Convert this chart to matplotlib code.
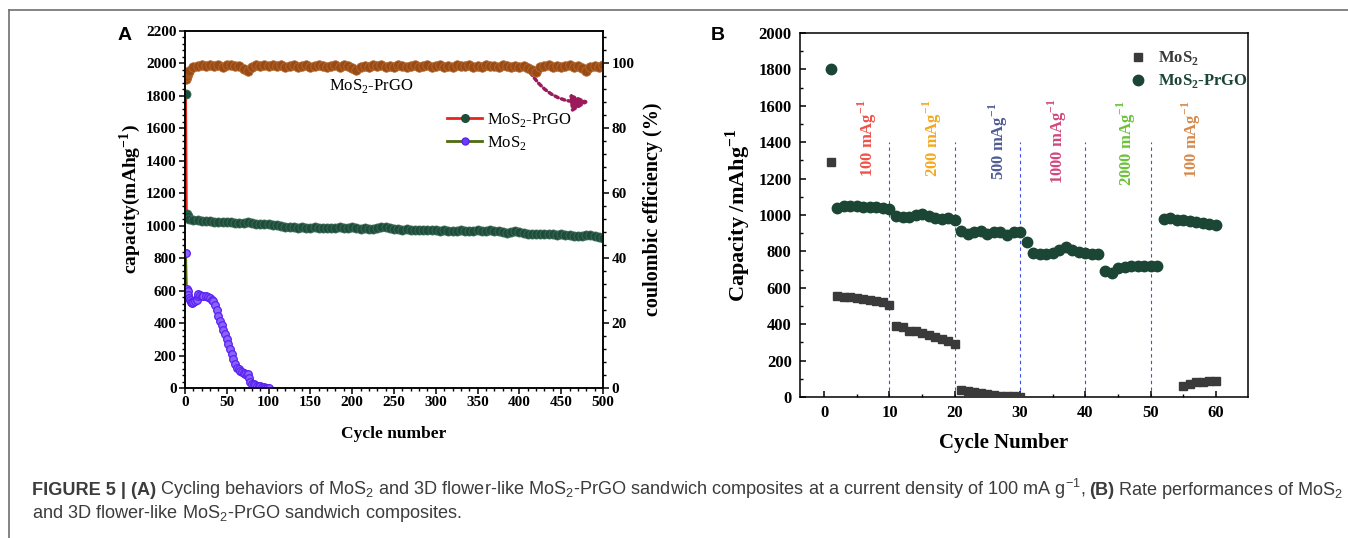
import matplotlib
matplotlib.use('Agg')
import matplotlib.pyplot as plt
from matplotlib import font_manager
from matplotlib.lines import Line2D
from matplotlib.ticker import MultipleLocator, AutoMinorLocator

# ---- panel A: long cycling at 100 mA/g ----
prgo_cyc_a = [1, 2, 3] + list(range(5, 501, 5))
prgo_cap_a = [1810, 1075, 1060,
              1040, 1035, 1035, 1032, 1030, 1028, 1025, 1025, 1022, 1020,
              1020, 1018, 1015, 1018, 1020, 1015, 1012, 1010, 1008, 1008,
              1005, 1005, 1000, 992, 990, 990, 988, 990, 988, 988,
              990, 988, 985, 988, 985, 987, 990, 985, 988, 990,
              985, 982, 985, 980, 980, 985, 990, 992, 985, 980,
              978, 975, 978, 975, 976, 975, 972, 975, 972, 972,
              970, 972, 970, 968, 970, 972, 970, 970, 968, 972,
              970, 970, 972, 970, 968, 962, 958, 960, 965, 962,
              955, 950, 948, 950, 948, 950, 952, 948, 945, 948,
              945, 940, 935, 938, 935, 940, 940, 935, 930, 925]
prgo_ce_a = [95.2, 96.0, 97.0,
             97.8, 98.8, 99.2, 99.5, 99.3, 99.6, 99.2, 99.5, 99.0, 99.4,
             99.6, 99.1, 99.3, 98.4, 97.6, 99.0, 99.4, 99.2, 99.5, 99.3,
             99.6, 99.1, 99.4, 99.0, 99.3, 99.5, 98.9, 99.2, 99.4, 99.0,
             99.3, 99.6, 99.2, 98.8, 99.3, 99.5, 99.0, 99.4, 99.1, 98.6,
             97.9, 98.8, 99.3, 99.0, 99.4, 99.2, 99.5, 98.9, 99.3, 99.0,
             99.4, 99.1, 98.8, 99.3, 99.5, 99.0, 99.2, 99.4, 98.9, 99.2,
             99.5, 99.0, 99.3, 98.8, 99.4, 99.1, 99.3, 99.5, 99.0, 99.2,
             98.9, 99.4, 99.1, 99.3, 99.0, 99.4, 99.2, 98.8, 99.3, 99.0,
             99.2, 98.7, 97.9, 97.5, 98.8, 99.2, 99.4, 99.0, 99.3, 98.9,
             99.2, 99.4, 99.0, 99.3, 98.6, 97.8, 98.9, 99.3, 99.0, 99.4]
mos2_cyc_a = [1, 2, 3, 4, 5, 6, 7, 8, 10, 12, 14, 15, 16, 18, 20, 22, 25, 28,
              30, 32, 34, 36, 38, 40, 42, 44, 46, 48, 50, 52, 54, 56, 58, 60,
              62, 64, 66, 68, 70, 72, 74, 75, 76, 78, 80, 82, 84, 86, 88, 90,
              92, 94, 96, 98, 100]
mos2_cap_a = [830, 610, 600, 575, 555, 540, 530, 525, 530, 535, 545, 570, 580,
              572, 570, 568, 565, 560, 555, 545, 535, 510, 480, 445, 415, 390,
              360, 330, 300, 270, 240, 210, 180, 150, 125, 115, 105, 100, 90,
              85, 80, 85, 60, 35, 25, 22, 18, 15, 12, 10, 6, 4, 2, 1, 0]

# ---- panel B: rate performance ----
cyc_b = list(range(1, 61))
prgo_cap_b = [1800, 1040, 1050, 1052, 1050, 1045, 1045, 1042, 1040, 1035,
              995, 990, 990, 1000, 1005, 995, 985, 980, 985, 975,
              910, 895, 905, 910, 895, 905, 905, 890, 905, 905,
              850, 790, 785, 785, 790, 805, 825, 810, 795, 790,
              788, 785, 690, 682, 710, 715, 720, 722, 722, 720,
              720, 980, 985, 975, 970, 965, 960, 955, 950, 945]
mos2_cyc_b = list(range(1, 31)) + [55, 56, 57, 58, 59, 60]
mos2_cap_b = [1290, 555, 552, 547, 542, 537, 532, 527, 520, 505,
              390, 385, 365, 360, 350, 340, 330, 320, 310, 290,
              40, 35, 28, 20, 15, 10, 6, 5, 3, 2,
              60, 72, 80, 85, 88, 88]
rate_x = [6.6, 16.5, 26.6, 35.7, 46.2, 56.3]
rate_y = [1209, 1209, 1192, 1170, 1159, 1203]
rate_labels = ['100 mAg$^{\\mathregular{-1}}$', '200 mAg$^{\\mathregular{-1}}$',
               '500 mAg$^{\\mathregular{-1}}$', '1000 mAg$^{\\mathregular{-1}}$',
               '2000 mAg$^{\\mathregular{-1}}$', '100 mAg$^{\\mathregular{-1}}$']
rate_colors = ['#f0504a', '#f5a81c', '#4f5b93', '#d0487c', '#6cc13a', '#d58a4e']
switch_cycles = [10, 20, 30, 40, 50]

plt.rcParams['font.family'] = ['Liberation Serif', 'DejaVu Serif']
plt.rcParams['mathtext.fontset'] = 'custom'
plt.rcParams['mathtext.rm'] = 'Liberation Serif'
plt.rcParams['axes.linewidth'] = 1.1

fig = plt.figure(figsize=(13.48, 5.38), dpi=100)
W, H = 1348.0, 538.0

# page frame lines (top and left)
fig.add_artist(Line2D([9 / W, 1.0], [1 - 10 / H, 1 - 10 / H], color='#707070', lw=1.2))
fig.add_artist(Line2D([9 / W, 9 / W], [0.0, 1 - 10 / H], color='#707070', lw=1.2))

# ================= panel A =================
ax = fig.add_axes([185 / W, 1 - 388 / H, 418 / W, 357 / H])
axr = ax.twinx()

ax.plot(prgo_cyc_a, prgo_cap_a, '-', color='#e8251b', lw=1.6, zorder=2)
ax.plot(prgo_cyc_a, prgo_cap_a, 'o', ms=6.5, mfc='#1f4d3b', mec='#3c6b58',
        mew=0.6, lw=0, zorder=3)
ax.plot(mos2_cyc_a, mos2_cap_a, '-', color='#4f6a12', lw=1.6, zorder=2)
ax.plot(mos2_cyc_a, mos2_cap_a, 'o', ms=5.5, mfc='#8a62ff', mec='#5a22f0',
        mew=0.9, lw=0, zorder=3)
axr.plot(prgo_cyc_a, prgo_ce_a, 'o', ms=6.8, mfc='#9a4a14', mec='#b46a2e',
         mew=0.6, lw=0)

ax.set_xlim(0, 500)
ax.set_ylim(0, 2200)
axr.set_ylim(0, 110)
ax.xaxis.set_major_locator(MultipleLocator(50))
ax.xaxis.set_minor_locator(MultipleLocator(10))
ax.yaxis.set_major_locator(MultipleLocator(200))
ax.yaxis.set_minor_locator(AutoMinorLocator(5))
axr.yaxis.set_major_locator(MultipleLocator(20))
axr.yaxis.set_minor_locator(AutoMinorLocator(5))
for a in (ax, axr):
    a.tick_params(which='major', direction='out', length=4, width=1.1,
                  labelsize=11, pad=2)
    a.tick_params(which='minor', direction='out', length=2.5, width=1.0)
    for lab in a.get_xticklabels() + a.get_yticklabels():
        lab.set_fontweight('bold')
ax.set_xlabel('Cycle number', fontsize=12.5, fontweight='bold', labelpad=12)
ax.set_ylabel('capacity(mAhg$^{\\mathregular{-1}}$)', fontsize=14,
              fontweight='bold', labelpad=0)
ax.yaxis.set_label_coords(-0.10, 0.53)
axr.set_ylabel('coulombic efficiency (%)', fontsize=14.5, fontweight='bold',
               labelpad=6)

ax.text(223, 1858, 'MoS$_\\mathregular{2}$-PrGO', ha='center', va='center',
        fontsize=12)
ax.annotate('', xy=(484, 1765), xytext=(413, 1945),
            arrowprops=dict(arrowstyle='-|>', linestyle=(0, (1, 1)),
                            color='#9b1b5a', lw=2.5, mutation_scale=25,
                            shrinkA=0, shrinkB=0,
                            connectionstyle='arc3,rad=0.3'))

hA = [Line2D([], [], color='#e8251b', lw=2, marker='o', ms=5.5,
             mfc='#1f4d3b', mec='#1f4d3b'),
      Line2D([], [], color='#4f6a12', lw=2, marker='o', ms=5,
             mfc='#6a3cff', mec='#5a22f0')]
ax.legend(hA, ['MoS$_\\mathregular{2}$-PrGO', 'MoS$_\\mathregular{2}$'],
          loc='upper left', bbox_to_anchor=(0.627, 0.775), frameon=False,
          fontsize=12, handlelength=2.1, handletextpad=0.3, labelspacing=0.3,
          borderpad=0, borderaxespad=0)

# ================= panel B =================
bx = fig.add_axes([800 / W, 1 - 397 / H, 448 / W, 364 / H])
bx.vlines(switch_cycles, 0, 1400, colors='#3b4ee8', linestyles=(0, (3, 3)),
          lw=0.8, zorder=1)
bx.plot(mos2_cyc_b, mos2_cap_b, 's', ms=6, color='#3a3a3a', lw=0,
        label='MoS$_\\mathregular{2}$', zorder=3)
bx.plot(cyc_b, prgo_cap_b, 'o', ms=7.5, color='#1b4534', lw=0,
        label='MoS$_\\mathregular{2}$-PrGO', zorder=3)
for x, y, lab, col in zip(rate_x, rate_y, rate_labels, rate_colors):
    bx.text(x, y, lab, rotation=90, ha='center', va='bottom', color=col,
            fontsize=12, fontweight='bold')

bx.set_xlim(-3.7, 64.9)
bx.set_ylim(0, 2000)
bx.xaxis.set_major_locator(MultipleLocator(10))
bx.xaxis.set_minor_locator(MultipleLocator(5))
bx.yaxis.set_major_locator(MultipleLocator(200))
bx.yaxis.set_minor_locator(MultipleLocator(100))
bx.tick_params(which='major', direction='in', length=4, width=1.1,
               labelsize=12, pad=6)
bx.tick_params(which='minor', direction='in', length=2.5, width=1.0)
for lab in bx.get_xticklabels() + bx.get_yticklabels():
    lab.set_fontweight('bold')
bx.set_xlabel('Cycle Number', fontsize=15, fontweight='bold', labelpad=8)
bx.xaxis.set_label_coords(0.455, -0.1)
bx.xaxis.label.set_va('top')
bx.set_ylabel('Capacity /mAhg$^{\\mathregular{-1}}$', fontsize=16,
              fontweight='bold', labelpad=4)
bx.legend(loc='upper left', bbox_to_anchor=(0.735, 0.955), frameon=False,
          handlelength=1.0, handletextpad=0.7, labelspacing=0.3, borderpad=0,
          borderaxespad=0, labelcolor=['#3a3a3a', '#1b4534'],
          prop={'size': 12, 'weight': 'bold'})

fig.text(125 / W, 1 - 35 / H, 'A', family='Liberation Sans', fontsize=14,
         fontweight='bold', ha='center', va='center')
fig.text(718 / W, 1 - 35 / H, 'B', family='Liberation Sans', fontsize=14,
         fontweight='bold', ha='center', va='center')

# ================= caption =================
try:
    font_manager.findfont(font_manager.FontProperties(family='Liberation Sans Narrow'),
                          fallback_to_default=False)
    cap_family = 'Liberation Sans Narrow'
except Exception:
    cap_family = 'Liberation Sans'

line1 = [('FIGURE 5 | (A)', True),
         ('Cycling behaviors of MoS$_\\mathregular{2}$ and 3D flower-like '
          'MoS$_\\mathregular{2}$-PrGO sandwich composites at a current density '
          'of 100 mA g$^{\\mathregular{-1}}$,', False),
         ('(B)', True),
         ('Rate performances of MoS$_\\mathregular{2}$', False)]
line2 = [('and 3D flower-like MoS$_\\mathregular{2}$-PrGO sandwich composites.', False)]


def caption_line(pieces, x0, ybase, size):
    r = fig.canvas.get_renderer()
    x = x0
    made = []
    for txt, bold in pieces:
        t = fig.text(x / W, ybase / H, txt, family=cap_family, fontsize=size,
                     fontweight='bold' if bold else 'normal', color='#3c3c3c',
                     ha='left', va='baseline')
        made.append(t)
        x = t.get_window_extent(r).x1 + size * 0.3
    return x - size * 0.3, made


size = 10.0
end, tmp = caption_line(line1, 32, 538 - 495, size)
for t in tmp:
    t.remove()
size = size * (1340 - 32) / (end - 32)
caption_line(line1, 32, 538 - 495, size)
caption_line(line2, 32, 538 - 518, size)

fig.savefig('out.png', dpi=100)
